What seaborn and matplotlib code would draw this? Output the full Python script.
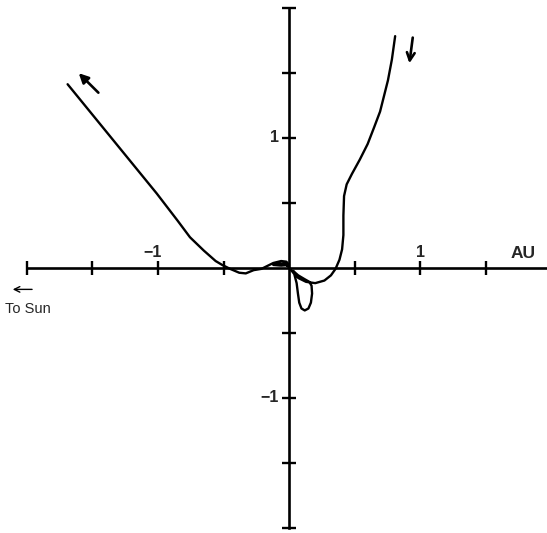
import numpy as np
import pandas as pd
import matplotlib
matplotlib.use("Agg")
import matplotlib.pyplot as plt
import seaborn as sns

# ==========================================
# Trajectory (AU, sun to the left)
# ==========================================
path_x = [-1.69, -1.35, -1.01, -0.85, -0.756, -0.65, -0.56, -0.51, -0.45, -0.38,
          -0.33, -0.27, -0.21, -0.17, -0.12, -0.06, -0.02, 0.0, -0.06, -0.12,
          -0.08, -0.03, 0.0, 0.04, 0.058, 0.068, 0.078, 0.095, 0.12, 0.148, 0.167,
          0.176, 0.172, 0.155, 0.12, 0.07, 0.03, 0.07, 0.13, 0.2, 0.27, 0.32,
          0.355, 0.385, 0.405, 0.415, 0.415, 0.42, 0.44, 0.48, 0.54, 0.6,
          0.65, 0.695, 0.725, 0.755, 0.785, 0.81]
path_y = [1.41, 0.99, 0.57, 0.36, 0.233, 0.13, 0.05, 0.02, -0.01, -0.04,
          -0.045, -0.02, -0.01, 0.01, 0.035, 0.05, 0.045, 0.02, 0.015, 0.02,
          0.03, 0.03, 0.0, -0.05, -0.12, -0.2, -0.27, -0.315, -0.33, -0.315, -0.27,
          -0.2, -0.14, -0.11, -0.09, -0.06, -0.025, -0.08, -0.11, -0.12, -0.10,
          -0.06, -0.01, 0.06, 0.14, 0.25, 0.4, 0.55, 0.64, 0.72, 0.83, 0.95,
          1.08, 1.2, 1.32, 1.44, 1.6, 1.78]

# axis ticks every half AU, labels only at +-1
x_ticks = [-2.0, -1.5, -1.0, -0.5, 0.5, 1.0, 1.5]
y_ticks = [-2.0, -1.5, -1.0, -0.5, 0.5, 1.0, 1.5, 2.0]
tick_labels = ["\u22121", "1"]

df = pd.DataFrame({"x": path_x, "y": path_y})

sns.set_style("white")
plt.rcParams["font.family"] = ["Liberation Sans", "DejaVu Sans"]

fig = plt.figure(figsize=(5.47, 5.33), dpi=100)
ax = fig.add_axes([0, 0, 1, 1])

sns.lineplot(data=df, x="x", y="y", sort=False, estimator=None,
             color="black", lw=1.7, ax=ax)

ax.set_xlim(-2.206, 1.969)
ax.set_ylim(-2.042, 2.058)

# axes through the origin
for side in ["top", "right"]:
    ax.spines[side].set_visible(False)
ax.spines["left"].set_position(("data", 0))
ax.spines["bottom"].set_position(("data", 0))
ax.spines["left"].set_bounds(-2.0, 2.0)
ax.spines["bottom"].set_bounds(-2.0, 1.969)
for side in ["left", "bottom"]:
    ax.spines[side].set_linewidth(1.9)
    ax.spines[side].set_color("black")

ax.set_xticks(x_ticks)
ax.set_yticks(y_ticks)
ax.tick_params(bottom=True, left=True, direction="inout", length=10,
               width=1.7, color="black", labelbottom=False, labelleft=False)
ax.set_xlabel("")
ax.set_ylabel("")

# tick labels drawn by hand (x above the axis, y left of it)
lab = dict(fontsize=11.5, fontweight="bold")
ax.text(-0.975, 0.06, tick_labels[0], ha="right", va="bottom", **lab)
ax.text(1.0, 0.06, tick_labels[1], ha="center", va="bottom", **lab)
ax.text(-0.08, 1.0, tick_labels[1], ha="right", va="center", **lab)
ax.text(-0.08, -1.0, tick_labels[0], ha="right", va="center", **lab)
ax.text(1.785, 0.05, "AU", ha="center", va="bottom", fontsize=12.5,
        fontweight="bold")

# direction of motion
ax.annotate("", xy=(-1.62, 1.51), xytext=(-1.44, 1.33),
            arrowprops=dict(arrowstyle="-|>", color="black", lw=1.9,
                            mutation_scale=14))
ax.annotate("", xy=(0.916, 1.55), xytext=(0.947, 1.79),
            arrowprops=dict(arrowstyle="->", color="black", lw=1.9,
                            mutation_scale=14))

# sun direction
ax.annotate("", xy=(-2.13, -0.168), xytext=(-1.94, -0.168),
            arrowprops=dict(arrowstyle="->", color="black", lw=1.0,
                            mutation_scale=10))
ax.text(-2.17, -0.32, "To Sun", ha="left", va="center", fontsize=10.5)

fig.savefig("out.png", dpi=100)
